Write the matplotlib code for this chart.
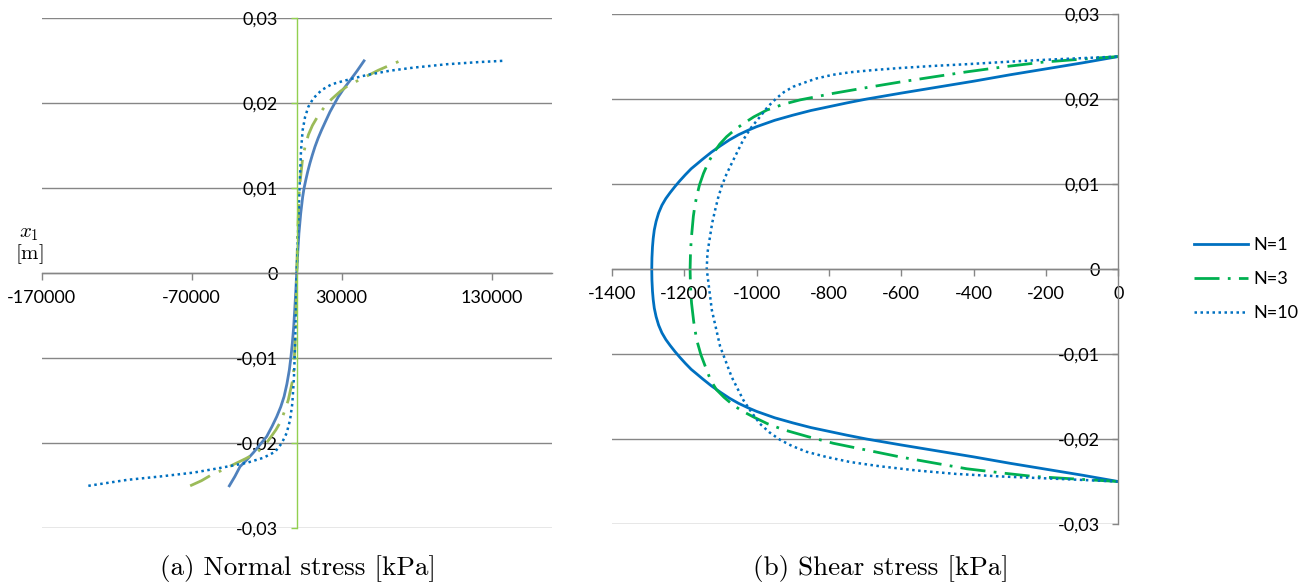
import matplotlib.pyplot as plt

plt.rcParams['font.family'] = ['Lato', 'DejaVu Sans']
plt.rcParams['mathtext.fontset'] = 'cm'

# depth coordinate x1 [m] and stresses [kPa] for the three layer counts
# --- normal stress ---
sig1_x1 = [-0.025, -0.0239, -0.02275, -0.0219, -0.0211, -0.0201, -0.0192, -0.0180, -0.01686, -0.0157,
           -0.0145, -0.0130, -0.01137, -0.0098, -0.0082, -0.0063, -0.0043, -0.0021, 0,
           0.0024, 0.0047, 0.00706, 0.0090, 0.0100, 0.0110, 0.0120, 0.01294, 0.0139, 0.0149,
           0.0159, 0.01686, 0.0179, 0.0190, 0.0199, 0.02078, 0.02175, 0.0227, 0.0238, 0.025]
sig1 = [-44900, -41200, -37800, -33000, -28900, -24200, -20000, -16400, -13300, -10600,
        -8400, -6500, -4900, -3800, -2900, -2000, -1300, -600, 0,
        700, 1500, 2700, 4000, 4900, 6100, 7400, 8800, 10400, 12200,
        14300, 16600, 19300, 22200, 25000, 27800, 31500, 35600, 40200, 44900]

sig3_x1 = [-0.025, -0.0244, -0.0237, -0.0231, -0.0225, -0.0218, -0.0211, -0.0202, -0.0194, -0.0184,
           -0.01745, -0.0161, -0.0149, -0.0122, -0.008, -0.004, 0, 0.005, 0.01, 0.0136, 0.0149,
           0.0163, 0.0174, 0.0184, 0.0195, 0.0205, 0.0214, 0.0222, 0.0227, 0.0233, 0.0239,
           0.0244, 0.025]
sig3 = [-71000, -63500, -56700, -48900, -42200, -34000, -26700, -21100, -17800, -13800,
        -10700, -7800, -5600, -2200, -1000, -400, 0, 700, 1800, 4000, 5600,
        7800, 10500, 13800, 18200, 23300, 29000, 35100, 41100, 47800, 54500,
        61000, 69000]

sig10_x1 = [-0.025, -0.0243, -0.0239, -0.02345, -0.0229, -0.0223, -0.0217, -0.0210, -0.0200, -0.0188,
            -0.01725, -0.0153, -0.0122, -0.0075, 0, 0.0047, 0.0086, 0.01137, 0.0145, 0.01686, 0.0184,
            0.0196, 0.02059, 0.02157, 0.02224, 0.02263, 0.02294, 0.02333, 0.02384, 0.0242, 0.0246,
            0.02486, 0.025]
sig10 = [-138900, -113000, -91000, -68900, -51100, -33300, -22200, -14400, -10000, -6700,
         -4400, -2900, -1800, -900, 0, 900, 1600, 2200, 2900, 4000, 5600,
         7800, 11100, 16700, 23300, 31100, 37800, 46700, 62200, 77800, 100000,
         122000, 137300]

# --- shear stress ---
tau1_x1 = [-0.025, -0.02425, -0.02355, -0.02285, -0.0221, -0.0214, -0.0207, -0.0200, -0.01955, -0.0191,
           -0.01865, -0.0181, -0.0175, -0.01675, -0.0163, -0.0158, -0.0152, -0.0145, -0.01375, -0.0129,
           -0.0124, -0.0118, -0.0111, -0.0104, -0.0097, -0.0090, -0.0083, -0.0075, -0.0066, -0.0056,
           -0.0046, -0.0036, -0.0026, -0.0013, 0,
           0.0013, 0.0026, 0.0036, 0.0046, 0.0056, 0.0066, 0.0075, 0.0083, 0.0090, 0.0097,
           0.0104, 0.0111, 0.0118, 0.0124, 0.0129, 0.01375, 0.0145, 0.0152, 0.0158, 0.0163,
           0.01675, 0.0175, 0.0181, 0.01865, 0.0191, 0.01955, 0.0200, 0.0207, 0.0214, 0.0221,
           0.02285, 0.02355, 0.02425, 0.025]
tau1 = [0, -100, -200, -300, -400, -500, -600, -696, -750, -800,
        -850, -900, -950, -1000, -1025, -1050, -1075, -1100, -1125, -1150,
        -1164, -1181, -1197, -1212, -1226, -1239, -1251, -1262, -1271, -1278,
        -1283, -1286, -1288, -1289.5, -1290,
        -1289.5, -1288, -1286, -1283, -1278, -1271, -1262, -1251, -1239, -1226,
        -1212, -1197, -1181, -1164, -1150, -1125, -1100, -1075, -1050, -1025,
        -1000, -950, -900, -850, -800, -750, -696, -600, -500, -400,
        -300, -200, -100, 0]

tau3_x1 = [-0.025, -0.0247, -0.0244, -0.0240, -0.0235, -0.0228, -0.0221, -0.0213, -0.0205, -0.0197,
           -0.0189, -0.0182, -0.0174, -0.0167, -0.0160, -0.0151, -0.0142, -0.0131, -0.0119, -0.0101,
           -0.0083, -0.0062, -0.0040, -0.0020, 0,
           0.0017, 0.0034, 0.0048, 0.0062, 0.0074, 0.0085, 0.0099, 0.01125, 0.0125, 0.0136,
           0.0147, 0.01557, 0.0164, 0.0171, 0.0179, 0.0187, 0.0194, 0.0199, 0.02067, 0.02135,
           0.0220, 0.0226, 0.0232, 0.0238, 0.02435, 0.0247, 0.025]
tau3 = [0, -120, -235, -320, -419, -512, -604, -696, -788, -860,
        -926, -970, -1009, -1040, -1065, -1090, -1111, -1127, -1138, -1154,
        -1166, -1174, -1180, -1183, -1184,
        -1183, -1181, -1178, -1175, -1171, -1166, -1158, -1147, -1134, -1120,
        -1102, -1083, -1060, -1037, -1008, -972, -925, -880, -788, -696,
        -604, -512, -419, -315, -207, -100, 0]

tau10_x1 = [-0.025, -0.0247, -0.0244, -0.0241, -0.0237, -0.0232, -0.0227, -0.0221, -0.0215, -0.0208,
            -0.0201, -0.0192, -0.0182, -0.0168, -0.0154, -0.0127, -0.0091, -0.0048, 0,
            0.0019, 0.0038, 0.0054, 0.0069, 0.0083, 0.0097, 0.0111, 0.01243, 0.0152, 0.0166,
            0.0179, 0.0191, 0.0201, 0.0208, 0.02145, 0.0219, 0.02243, 0.02285, 0.02315, 0.0234,
            0.02365, 0.0239, 0.0241, 0.02435, 0.02455, 0.02472, 0.025]
tau10 = [0, -160, -327, -450, -558, -660, -742, -808, -862, -903,
         -935, -965, -991, -1015, -1037, -1069, -1101, -1124, -1138,
         -1136, -1129, -1123, -1115, -1107, -1097, -1084, -1069, -1037, -1016,
         -991, -969, -945, -925, -899, -870, -834, -790, -742, -680,
         -604, -510, -419, -320, -235, -150, 0]

series_names = ['N=1', 'N=3', 'N=10']

y_ticks = [-0.03, -0.02, -0.01, 0, 0.01, 0.02, 0.03]
y_labels = ['-0,03', '-0,02', '-0,01', '0', '0,01', '0,02', '0,03']
sig_ticks = [-170000, -70000, 30000, 130000]
tau_ticks = [-1400, -1200, -1000, -800, -600, -400, -200, 0]

GRID = '#868686'
DOTTED = (0, (1, 1.4))


def style_axes(ax, axis_color):
    ax.spines['top'].set_visible(False)
    ax.spines['right'].set_visible(False)
    ax.spines['left'].set_position(('data', 0))
    ax.spines['left'].set_color(axis_color)
    ax.spines['left'].set_linewidth(1.0)
    ax.spines['bottom'].set_position(('data', 0))
    ax.spines['bottom'].set_color(GRID)
    ax.spines['bottom'].set_linewidth(1.0)
    ax.set_yticks(y_ticks)
    ax.set_yticklabels(y_labels)
    ax.set_ylim(-0.03, 0.03)
    ax.yaxis.grid(True, color=GRID, linewidth=1.0)
    ax.set_axisbelow(True)
    ax.tick_params(axis='y', color=axis_color, length=4.5, width=1.0, pad=9, labelsize=13)
    ax.tick_params(axis='x', color=GRID, length=5, width=1.0, pad=7, labelsize=13)


fig = plt.figure(figsize=(13.11, 5.88), dpi=100)

# (a) normal stress
ax1 = fig.add_axes([0.0318, 0.1015, 0.3890, 0.8673])
ax1.plot(sig1, sig1_x1, color='#4f81bd', lw=2.0)
ax1.plot(sig3, sig3_x1, color='#9bbb59', lw=2.0, ls=(0, (8, 3.5, 1, 3.5)))
ax1.plot(sig10, sig10_x1, color='#0070c0', lw=1.8, ls=DOTTED)
ax1.set_xlim(-170000, 170000)
ax1.set_xticks(sig_ticks)
ax1.set_xticklabels([str(t) for t in sig_ticks])
style_axes(ax1, '#92d050')

# (b) shear stress
ax2 = fig.add_axes([0.4668, 0.1088, 0.3862, 0.8673])
l1, = ax2.plot(tau1, tau1_x1, color='#0070c0', lw=2.0)
l3, = ax2.plot(tau3, tau3_x1, color='#00b050', lw=2.0, ls=(0, (9, 3, 1, 3)))
l10, = ax2.plot(tau10, tau10_x1, color='#0070c0', lw=1.8, ls=DOTTED)
ax2.set_xlim(-1400, 0)
ax2.set_xticks(tau_ticks)
ax2.set_xticklabels([str(t) for t in tau_ticks])
style_axes(ax2, GRID)

fig.legend([l1, l3, l10], series_names, loc='center left',
           bbox_to_anchor=(1194 / 1311, (588 - 279) / 588), frameon=False,
           fontsize=13, handlelength=3.0, handletextpad=0.3, labelspacing=1.0,
           borderpad=0, borderaxespad=0)

fig.text(29 / 1311, (588 - 233) / 588, r'$x_1$', size=15, ha='center', va='center')
fig.text(29 / 1311, (588 - 254) / 588, r'$[\mathrm{m}]$', size=15, ha='center', va='center')

fig.text(298 / 1311, (588 - 569) / 588, '(a) Normal stress [kPa]', family='cmr10',
         size=19.5, ha='center', va='center')
fig.text(881 / 1311, (588 - 569) / 588, '(b) Shear stress [kPa]', family='cmr10',
         size=19.5, ha='center', va='center')

fig.savefig('out.png', dpi=100)
